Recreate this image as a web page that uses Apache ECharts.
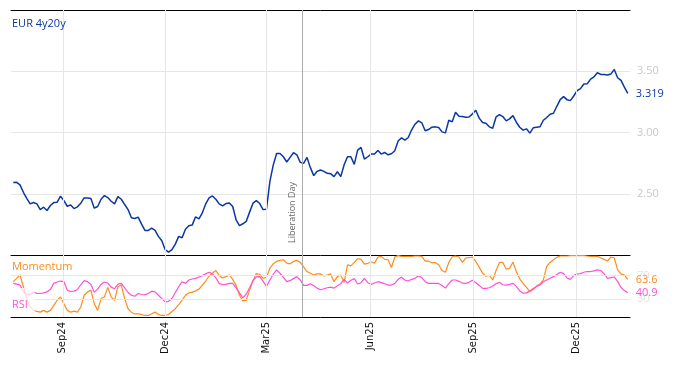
<!DOCTYPE html>
<html><head><meta charset="utf-8">
<script src="https://cdn.jsdelivr.net/npm/echarts@6/dist/echarts.min.js"></script>
<style>html,body{margin:0;padding:0;background:#fff}#c{width:674px;height:366px}</style>
</head><body><div id="c"></div>
<script>
// ---- data ----
const seriesStart = '2024-07-19';
const stepDays = 3;
const axisStart = '2024-07-17';
const axisEnd = '2026-01-18';
const rate = [2.591,2.593,2.572,2.512,2.463,2.417,2.428,2.417,2.371,2.390,
2.363,2.404,2.428,2.431,2.480,2.444,2.398,2.409,2.379,2.393,
2.423,2.466,2.466,2.461,2.382,2.396,2.455,2.485,2.469,2.439,
2.417,2.477,2.455,2.412,2.371,2.304,2.298,2.309,2.252,2.201,
2.201,2.220,2.201,2.152,2.117,2.043,2.024,2.043,2.089,2.152,
2.141,2.211,2.239,2.244,2.312,2.295,2.344,2.417,2.466,2.482,
2.455,2.417,2.401,2.420,2.425,2.396,2.287,2.239,2.255,2.274,
2.350,2.423,2.444,2.420,2.371,2.374,2.599,2.734,2.829,2.829,
2.802,2.759,2.797,2.835,2.818,2.756,2.748,2.797,2.713,2.648,
2.683,2.694,2.683,2.667,2.664,2.640,2.680,2.640,2.737,2.802,
2.802,2.740,2.856,2.878,2.783,2.802,2.824,2.824,2.854,2.824,
2.837,2.818,2.827,2.851,2.930,2.957,2.938,2.959,3.022,3.068,
3.095,3.079,3.014,3.024,3.043,3.046,3.041,3.005,2.997,3.100,
3.087,3.165,3.133,3.130,3.125,3.127,3.152,3.182,3.117,3.081,
3.076,3.046,3.035,3.127,3.146,3.130,3.095,3.111,3.138,3.084,
3.043,3.019,3.030,2.995,3.038,3.043,3.046,3.100,3.122,3.149,
3.157,3.214,3.268,3.293,3.268,3.260,3.298,3.341,3.358,3.396,
3.398,3.436,3.455,3.488,3.474,3.474,3.469,3.477,3.515,3.447,
3.425,3.371,3.319];
const momentum = [59.8,65.5,71.2,51.2,31.2,16.9,11.2,9.4,8.3,11.2,
8.3,11.2,19.7,28.3,34.0,22.6,11.2,8.3,10.0,8.3,
16.9,36.9,42.6,45.5,22.6,11.2,31.2,34.0,50.1,34.0,
28.3,51.2,54.1,31.2,14.0,7.7,5.4,5.4,4.3,2.6,
2.6,5.4,8.3,4.3,2.6,2.6,4.3,9.4,14.0,20.9,
28.3,36.9,40.9,42.1,44.3,47.2,54.1,60.9,69.5,74.1,
78.7,70.1,66.1,68.4,71.2,63.8,53.5,36.9,27.2,28.3,
45.5,61.5,73.5,72.4,65.5,67.2,82.7,90.1,94.1,95.9,
97.0,91.3,90.1,94.1,95.9,92.4,85.0,77.0,74.1,71.2,
73.0,73.0,69.5,71.2,73.0,59.8,68.4,71.2,58.7,88.4,
86.7,92.4,98.7,97.6,89.6,90.7,93.6,91.3,101.6,102.7,
97.6,97.0,83.8,101.6,103.9,102.7,102.7,102.7,102.7,103.3,
103.3,102.7,94.7,94.7,91.8,92.4,88.4,78.7,75.8,92.4,
102.1,103.3,101.6,92.4,99.9,100.4,101.6,94.1,84.4,74.1,
69.0,70.7,62.7,78.7,92.4,92.4,81.0,82.1,93.0,77.0,
64.4,56.9,50.1,43.2,46.6,52.4,55.8,62.7,85.6,92.4,
97.0,101.0,103.3,103.3,103.3,103.9,103.9,103.9,103.9,103.9,
103.3,102.7,102.7,102.7,100.4,97.6,94.7,101.6,100.4,79.8,
73.0,71.2,63.6];
const rsi = [56.9,55.8,54.1,42.6,38.6,38.1,42.6,39.8,39.8,40.9,
42.6,46.6,56.9,59.2,60.9,59.8,45.5,43.2,43.8,46.6,
54.6,61.5,59.8,55.2,42.1,47.2,55.2,59.2,57.5,50.6,
47.8,55.8,56.9,49.5,41.5,36.9,35.2,39.8,38.1,37.5,
39.8,43.8,42.6,36.9,31.2,25.5,26.6,31.2,41.5,51.2,
59.8,56.9,62.7,64.4,65.5,67.8,70.1,73.0,75.8,73.0,
66.1,56.9,54.6,55.2,56.9,56.9,49.5,40.9,32.3,38.6,
49.5,61.5,67.8,68.4,60.4,51.8,62.7,72.4,79.8,74.1,
67.2,59.8,61.5,65.0,68.4,62.7,53.5,53.5,56.4,52.9,
48.9,46.1,47.8,49.5,50.6,48.9,52.9,56.4,63.8,57.5,
62.1,65.0,55.8,58.1,65.5,58.1,55.2,57.5,59.8,58.1,
56.4,54.1,54.1,56.9,63.8,67.2,62.7,60.9,63.8,65.5,
69.5,66.7,59.8,56.9,56.9,56.9,56.9,53.5,48.9,56.4,
62.7,62.7,60.4,57.5,56.9,58.7,62.1,58.1,53.5,48.4,
48.4,49.5,52.4,56.4,58.7,54.6,54.1,55.2,56.9,51.8,
44.3,40.3,40.9,43.8,48.4,51.8,54.1,59.8,62.7,65.5,
68.4,71.8,75.8,73.5,66.1,63.8,70.1,73.0,73.5,75.8,
77.0,77.0,78.1,79.8,78.7,73.0,65.5,66.7,67.8,60.4,
50.1,44.9,40.9];
const tickDates = ['2024-09-01','2024-12-01','2025-03-01','2025-06-01','2025-09-01','2025-12-01'];
const tickLabels = ['Sep24','Dec24','Mar25','Jun25','Sep25','Dec25'];
const rateTicks = [2.5, 3.0, 3.5];
const oscTicks = [30, 70];
const eventDate = '2025-04-02';
const eventLabel = 'Liberation Day';
const titleText = 'EUR 4y20y';
const momLabel = 'Momentum';
const rsiLabel = 'RSI';

// ---- build ----
const DAY = 86400000;
const t0 = Date.parse(seriesStart);
const dates = rate.map((_, i) => t0 + i * stepDays * DAY);
const ticks = tickDates.map(d => Date.parse(d));
const xMin = Date.parse(axisStart), xMax = Date.parse(axisEnd);
const evT = Date.parse(eventDate);

const BLUE = '#0b37a3', ORANGE = '#ff8c1a', PINK = '#ff4fd8';
const FONT = 'Open Sans';

function xAxisBase(grid) {
  return {
    type: 'value', gridIndex: grid, min: xMin, max: xMax, position: 'bottom',
    axisLine: { show: true, onZero: false, lineStyle: { color: '#000', width: 1 } },
    axisTick: { show: true, inside: true, length: 5, customValues: ticks, lineStyle: { color: '#000' } },
    axisLabel: { show: false },
    splitLine: { show: false }
  };
}
const x1 = xAxisBase(1);
x1.axisLabel = {
  show: true, rotate: 90, customValues: ticks, margin: 5,
  fontFamily: 'DejaVu Sans', fontSize: 10, color: '#111',
  formatter: v => { const k = ticks.indexOf(v); return k >= 0 ? tickLabels[k] : ''; }
};
const xTop = { type: 'value', gridIndex: 0, min: xMin, max: xMax, position: 'top',
  axisLine: { show: true, onZero: false, lineStyle: { color: '#000', width: 1 } },
  axisTick: { show: false }, axisLabel: { show: false }, splitLine: { show: false } };

const vLines = ticks.map(t => ({ xAxis: t }));
const gridLineStyle = { color: '#e6e6e6', type: 'solid', width: 1 };
const evLineStyle = { color: '#aaaaaa', type: 'solid', width: 1 };

const option = {
  animation: false,
  backgroundColor: '#fff',
  title: [
    { text: titleText, left: 12, top: 18, padding: 0,
      textStyle: { color: BLUE, fontSize: 11, fontWeight: 'normal', fontFamily: FONT } },
    { text: momLabel, left: 12, top: 261, padding: 0,
      textStyle: { color: ORANGE, fontSize: 11, fontWeight: 'normal', fontFamily: FONT } },
    { text: rsiLabel, left: 8, top: 288, padding: [11, 7, 2, 4], backgroundColor: 'rgba(255,255,255,0.72)',
      textStyle: { color: PINK, fontSize: 11, fontWeight: 'normal', fontFamily: FONT } }
  ],
  grid: [
    { left: 11, right: 44, top: 10, height: 245, outerBoundsMode: 'none' },
    { left: 11, right: 44, top: 255, height: 62, outerBoundsMode: 'none' }
  ],
  xAxis: [xAxisBase(0), x1, xTop],
  yAxis: [
    { type: 'value', gridIndex: 0, position: 'right', min: 2, max: 4, interval: 0.5,
      axisLine: { show: false }, axisTick: { show: false },
      axisLabel: { customValues: rateTicks, color: '#c8c8c8', fontSize: 11, fontFamily: FONT, margin: 7,
        formatter: v => v.toFixed(2) },
      splitLine: { show: true, lineStyle: { color: '#e6e6e6', width: 1 } } },
    { type: 'value', gridIndex: 1, position: 'right', min: 0, max: 105,
      axisLine: { show: false }, axisTick: { show: false },
      axisLabel: { customValues: oscTicks, color: '#e2e2e2', fontSize: 11, fontFamily: FONT, margin: 7 },
      splitLine: { show: false } }
  ],
  series: [
    { type: 'line', xAxisIndex: 0, yAxisIndex: 0, z: 1, silent: true, symbol: 'none',
      data: rate.map((v, i) => [dates[i], v]), lineStyle: { opacity: 0 },
      markLine: { silent: true, symbol: 'none', animation: false,
        label: { show: false },
        data: vLines.map(d => Object.assign({ lineStyle: gridLineStyle }, d)).concat([
          { xAxis: evT, lineStyle: evLineStyle,
            label: { show: true, position: 'insideStartTop', formatter: eventLabel,
              color: '#666', fontSize: 9, fontFamily: FONT, distance: [12, 6] } }
        ]) } },
    { type: 'line', xAxisIndex: 1, yAxisIndex: 1, z: 1, silent: true, symbol: 'none',
      data: rsi.map((v, i) => [dates[i], v]), lineStyle: { opacity: 0 },
      markLine: { silent: true, symbol: 'none', animation: false,
        label: { show: false },
        data: vLines.map(d => Object.assign({ lineStyle: gridLineStyle }, d))
          .concat(oscTicks.map(v => ({ yAxis: v, lineStyle: gridLineStyle })))
          .concat([{ xAxis: evT, lineStyle: evLineStyle }]) } },
    { name: titleText, type: 'line', xAxisIndex: 0, yAxisIndex: 0, z: 3, symbol: 'none',
      data: rate.map((v, i) => [dates[i], v]),
      lineStyle: { color: BLUE, width: 1.5 }, itemStyle: { color: BLUE },
      endLabel: { show: true, formatter: p => p.value[1].toFixed(3), color: BLUE,
        fontSize: 11, fontFamily: FONT, distance: 8 } },
    { name: momLabel, type: 'line', xAxisIndex: 1, yAxisIndex: 1, z: 3, symbol: 'none',
      data: momentum.map((v, i) => [dates[i], v]),
      lineStyle: { color: ORANGE, width: 1.2 }, itemStyle: { color: ORANGE },
      endLabel: { show: true, formatter: p => p.value[1].toFixed(1), color: ORANGE,
        fontSize: 11, fontFamily: FONT, distance: 8 } },
    { name: rsiLabel, type: 'line', xAxisIndex: 1, yAxisIndex: 1, z: 3, symbol: 'none',
      data: rsi.map((v, i) => [dates[i], v]),
      lineStyle: { color: PINK, width: 1.2 }, itemStyle: { color: PINK },
      endLabel: { show: true, formatter: p => p.value[1].toFixed(1), color: PINK,
        fontSize: 11, fontFamily: FONT, distance: 8 } }
  ]
};
const chart = echarts.init(document.getElementById('c'), null, { renderer: 'canvas' });
chart.setOption(option);
</script></body></html>
